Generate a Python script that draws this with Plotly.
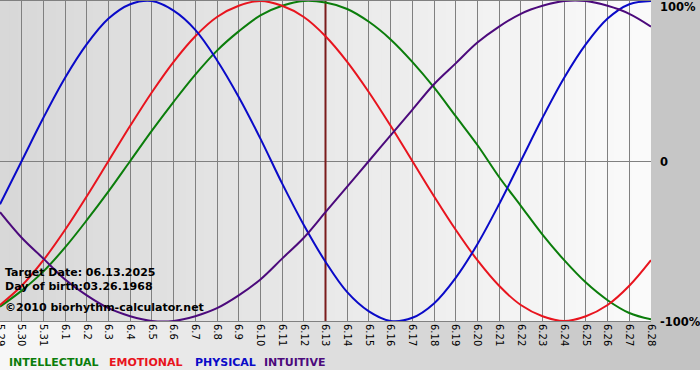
import plotly.graph_objects as go

# ---- data ----
dates = ["5.29", "5.30", "5.31", "6.1", "6.2", "6.3", "6.4", "6.5", "6.6", "6.7",
         "6.8", "6.9", "6.10", "6.11", "6.12", "6.13", "6.14", "6.15", "6.16", "6.17",
         "6.18", "6.19", "6.20", "6.21", "6.22", "6.23", "6.24", "6.25", "6.26", "6.27", "6.28"]

intellectual = [-0.91, -0.81, -0.69, -0.54, -0.37, -0.19, 0.0, 0.19, 0.37, 0.54,
                0.69, 0.81, 0.91, 0.97, 1.0, 0.99, 0.95, 0.87, 0.76, 0.62,
                0.46, 0.28, 0.10, -0.10, -0.28, -0.46, -0.62, -0.76, -0.87, -0.95, -0.99]

emotional = [-0.90, -0.78, -0.62, -0.43, -0.22, 0.0, 0.22, 0.43, 0.62, 0.78,
             0.90, 0.97, 1.0, 0.97, 0.90, 0.78, 0.62, 0.43, 0.22, 0.0,
             -0.22, -0.43, -0.62, -0.78, -0.90, -0.97, -1.0, -0.97, -0.90, -0.78, -0.62]

physical = [-0.27, 0.0, 0.27, 0.52, 0.73, 0.89, 0.98, 1.0, 0.94, 0.82,
            0.63, 0.40, 0.14, -0.14, -0.40, -0.63, -0.82, -0.94, -1.0, -0.98,
            -0.89, -0.73, -0.52, -0.27, 0.0, 0.27, 0.52, 0.73, 0.89, 0.98, 1.0]

intuitive = [-0.32, -0.48, -0.61, -0.74, -0.84, -0.92, -0.97, -1.0, -1.0, -0.97,
             -0.92, -0.84, -0.74, -0.61, -0.48, -0.32, -0.16, 0.0, 0.16, 0.32,
             0.48, 0.61, 0.74, 0.84, 0.92, 0.97, 1.0, 1.0, 0.97, 0.92, 0.84]

series_names = ["INTELLECTUAL", "EMOTIONAL", "PHYSICAL", "INTUITIVE"]
series_colors = ["#0b7d0b", "#e8141e", "#0a0ac8", "#4c0a7c"]
y_tick_labels = ["100%", "0", "-100%"]
target_date = "6.13"
info_lines = ["Target Date: 06.13.2025", "Day of birth:03.26.1968",
              "\u00a92010 biorhythm-calculator.net"]

# ---- figure ----
W, H = 700, 380
ML, MR, MT, MB = 0, 49, 1, 59
PW = W - ML - MR
PH = H - MT - MB

fig = go.Figure()

# target date line (below curves)
fig.add_trace(go.Scatter(x=[target_date, target_date], y=[-1, 1], mode="lines",
                         line=dict(color="#7a1c1c", width=2), hoverinfo="skip",
                         showlegend=False))

for name, vals, col in zip(series_names, [intellectual, emotional, physical, intuitive],
                           series_colors):
    fig.add_trace(go.Scatter(x=dates, y=vals, mode="lines", name=name,
                             line=dict(color=col, width=2, shape="spline", smoothing=1.0),
                             showlegend=False))

shapes = []


def lerp(a, b, t):
    return int(round(a + (b - a) * t))


# plot area gradient (left darker -> right lighter)
N = 70
for i in range(N):
    t = i / (N - 1)
    c = lerp(216, 250, t)
    shapes.append(dict(type="rect", xref="paper", yref="paper",
                       x0=i / N, x1=(i + 1.2) / N if i < N - 1 else 1.0,
                       y0=0, y1=1, fillcolor=f"rgb({c},{c},{c})",
                       line=dict(width=0), layer="below"))

# right margin grey
xr = W / PW
shapes.append(dict(type="rect", xref="paper", yref="paper", x0=1.0, x1=xr,
                   y0=0, y1=1 + MT / PH + 0.01, fillcolor="#c6c6c6",
                   line=dict(width=0), layer="below"))

# bottom band gradient (left light -> right darker)
yb = -(370 - (MT + PH)) / PH
for i in range(N):
    t = i / (N - 1)
    c = lerp(247, 194, t)
    x0 = xr * i / N
    x1 = xr * (i + 1.2) / N if i < N - 1 else xr
    shapes.append(dict(type="rect", xref="paper", yref="paper",
                       x0=x0, x1=x1, y0=yb, y1=0, fillcolor=f"rgb({c},{c},{c})",
                       line=dict(width=0), layer="below"))

annotations = []
FONT = "DejaVu Sans"

# right-side percentage labels
for lab, ypx in zip(y_tick_labels, [7, 162, 322]):
    annotations.append(dict(xref="paper", yref="paper", x=(658 - ML) / PW,
                            y=(MT + PH - ypx) / PH, text=f"<b>{lab}</b>",
                            showarrow=False, xanchor="left", yanchor="middle",
                            font=dict(family=FONT, size=11.5, color="black")))

# info text lines
for txt, ypx in zip(info_lines, [272, 286, 307]):
    annotations.append(dict(xref="paper", yref="paper", x=3 / PW,
                            y=(MT + PH - ypx) / PH, text=f"<b>{txt}</b>",
                            showarrow=False, xanchor="left", yanchor="middle",
                            font=dict(family=FONT, size=11, color="black")))

# legend texts
for name, col, xpx in zip(series_names, series_colors, [7, 107, 193, 262]):
    annotations.append(dict(xref="paper", yref="paper", x=xpx / PW,
                            y=(MT + PH - 362) / PH, text=f"<b>{name}</b>",
                            showarrow=False, xanchor="left", yanchor="middle",
                            font=dict(family=FONT, size=11, color=col)))

fig.update_layout(
    width=W, height=H, autosize=False,
    margin=dict(l=ML, r=MR, t=MT, b=MB, pad=0, autoexpand=False),
    paper_bgcolor="white", plot_bgcolor="rgba(0,0,0,0)",
    shapes=shapes, annotations=annotations,
    xaxis=dict(type="category", categoryorder="array", categoryarray=dates,
               range=[0, len(dates) - 1], showgrid=True, gridcolor="#808080",
               gridwidth=1, showline=True, linecolor="#808080", linewidth=1,
               mirror=True, ticks="", tickangle=90, automargin=False,
               tickfont=dict(family=FONT, size=10, color="black"),
               zeroline=False, fixedrange=True),
    yaxis=dict(range=[-1, 1], showgrid=False, zeroline=True, zerolinecolor="#808080",
               zerolinewidth=1, showticklabels=False, ticks="", showline=False,
               automargin=False, fixedrange=True),
    showlegend=False,
)

fig.write_html("out.html", config={"displayModeBar": False},
               post_script="document.body.style.margin='0';"
                           "document.body.style.overflow='hidden';")
